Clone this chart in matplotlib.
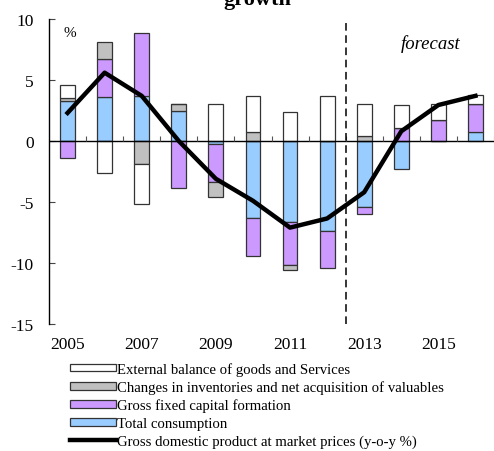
import numpy as np
import matplotlib
matplotlib.use('Agg')
import matplotlib.pyplot as plt

plt.rcParams['font.family'] = ['Liberation Serif', 'DejaVu Serif']
plt.rcParams['axes.unicode_minus'] = False

years = np.arange(2005, 2017)
consumption = [3.3, 3.6, 3.7, 2.45, -0.25, -6.3, -6.6, -7.4, -5.45, -2.3, 0.0, 0.75]
gfcf = [-1.4, 3.1, 5.15, -3.85, -3.15, -3.1, -3.6, -3.05, -0.55, 1.1, 1.75, 2.3]
inventories = [0.2, 1.4, -1.9, 0.57, -1.2, 0.7, -0.4, 0.0, 0.43, 0.0, 0.0, 0.0]
external = [1.1, -2.6, -3.3, 0.0, 3.0, 3.0, 2.35, 3.7, 2.6, 1.85, 1.3, 0.7]
gdp = [2.3, 5.6, 3.7, 0.0, -3.1, -4.9, -7.1, -6.35, -4.2, 0.8, 2.95, 3.7]

series = [
    (consumption, '#99ccff', 'Total consumption'),
    (gfcf, '#cc99ff', 'Gross fixed capital formation'),
    (inventories, '#c0c0c0', 'Changes in inventories and net acquisition of valuables'),
    (external, '#ffffff', 'External balance of goods and Services'),
]

fig = plt.figure(figsize=(4.94, 4.52), dpi=100)
ax = fig.add_axes([49/494, 1 - 325/452, 1 - 49/494, (325 - 20)/452])

# stack positives up and negatives down from zero
pos = np.zeros(len(years))
neg = np.zeros(len(years))
handles = {}
for vals, col, lab in series:
    v = np.array(vals)
    bottom = np.where(v >= 0, pos, neg)
    b = ax.bar(years, v, 0.4, bottom=bottom, color=col, edgecolor='#333333',
               linewidth=0.9, label=lab, zorder=2)
    handles[lab] = b
    pos = pos + np.clip(v, 0, None)
    neg = neg + np.clip(v, None, 0)

line, = ax.plot(years, gdp, color='black', lw=3.2, zorder=4,
                label='Gross domestic product at market prices (y-o-y %)')

ax.axhline(0, color='black', lw=1.0, zorder=3)
ax.vlines(np.arange(2005.5, 2017), 0, 0.4, color='#555555', lw=0.8, zorder=3)
ax.axvline(2012.5, ymax=0.99, color='black', lw=1.1, ls=(0, (5, 3)), zorder=3)

ax.set_xlim(2004.5, 2016.5)
ax.set_ylim(-15, 10)
ax.set_yticks([10, 5, 0, -5, -10, -15])
ax.set_xticks([2005, 2007, 2009, 2011, 2013, 2015])
ax.tick_params(axis='y', direction='in', length=4, width=0.8, pad=11,
               labelsize=12.5, color='#444444')
ax.tick_params(axis='x', length=0, pad=9, labelsize=12.5)
for s in ['top', 'right', 'bottom']:
    ax.spines[s].set_visible(False)
ax.spines['left'].set_linewidth(1.0)

ax.text(2004.9, 8.6, '%', fontsize=11)
ax.text(2014.8, 7.6, 'forecast', fontsize=13.5, style='italic', ha='center')

fig.text(257/494, 1 - 5/452, 'growth', fontsize=16, fontweight='bold',
         ha='center', va='baseline')

order = ['External balance of goods and Services',
         'Changes in inventories and net acquisition of valuables',
         'Gross fixed capital formation',
         'Total consumption']
fig.legend([handles[k] for k in order] + [line], order + [line.get_label()],
           loc='upper left', bbox_to_anchor=(70/494, 1 - 363/452),
           frameon=False, fontsize=10.6, handlelength=3.1, handleheight=0.45,
           handletextpad=0.1, labelspacing=0.31, borderpad=0, borderaxespad=0)

fig.savefig('out.png', dpi=100)
